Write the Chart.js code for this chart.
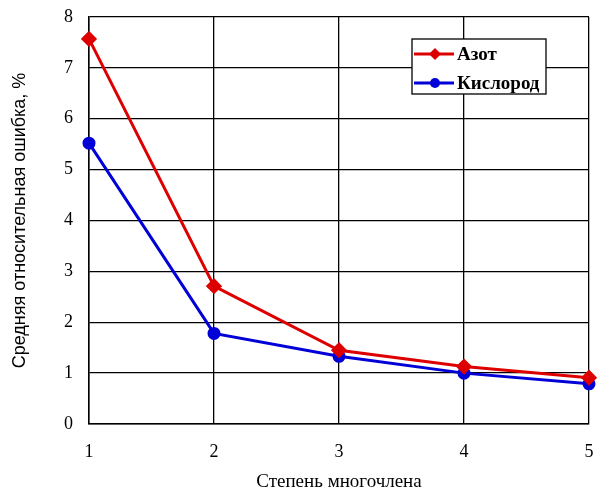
<!DOCTYPE html>
<html>
<head>
<meta charset="utf-8">
<script src="https://cdn.jsdelivr.net/npm/chart.js@4/dist/chart.umd.min.js"></script>
<style>
  html, body { margin: 0; padding: 0; background: #fff; }
  #wrap { width: 598px; height: 493px; }
</style>
</head>
<body>
<div id="wrap"><canvas id="c" width="598" height="493"></canvas></div>
<script>
// Polynomial degree on the x axis
const degrees = [1, 2, 3, 4, 5];
// Mean relative error, %
const nitrogen = [7.57, 2.71, 1.45, 1.13, 0.91];
const oxygen = [5.52, 1.78, 1.33, 1.00, 0.79];
const seriesNames = ['Азот', 'Кислород'];
const xTitle = 'Степень многочлена';
const yTitle = 'Средняя относительная ошибка, %';

const RED = 'rgb(222,0,0)';
const BLUE = 'rgb(0,0,215)';
const SERIF = '"Liberation Serif", "Times New Roman", serif';
const SANS = '"Liberation Sans", Arial, sans-serif';

const toPoints = vals => degrees.map((d, i) => ({ x: d, y: vals[i] }));

// Fixed axis band sizes; label overhang is left to the layout padding
function fixBand(size) {
  return scale => {
    if (scale.isHorizontal()) scale.height = size; else scale.width = size;
    scale.paddingLeft = scale.paddingRight = scale.paddingTop = scale.paddingBottom = 0;
  };
}

// Boxed legend drawn inside the plot area, upper right
const boxLegend = {
  id: 'boxLegend',
  afterDatasetsDraw(chart) {
    const { ctx, chartArea } = chart;
    const w = 134, h = 55;
    const x0 = chartArea.right - 43 - w;
    const y0 = chartArea.top + 22;
    ctx.save();
    ctx.fillStyle = '#fff';
    ctx.fillRect(x0, y0, w, h);
    ctx.strokeStyle = '#000';
    ctx.lineWidth = 1.3;
    ctx.strokeRect(x0, y0, w, h);
    chart.data.datasets.forEach((ds, i) => {
      const cy = y0 + 15 + i * 29;
      ctx.strokeStyle = ds.borderColor;
      ctx.lineWidth = 3;
      ctx.beginPath();
      ctx.moveTo(x0 + 2, cy);
      ctx.lineTo(x0 + 42, cy);
      ctx.stroke();
      ctx.fillStyle = ds.borderColor;
      const mx = x0 + 23;
      ctx.beginPath();
      if (ds.pointStyle === 'rectRot') {
        const r = 6;
        ctx.moveTo(mx, cy - r); ctx.lineTo(mx + r, cy); ctx.lineTo(mx, cy + r); ctx.lineTo(mx - r, cy);
        ctx.closePath();
      } else {
        ctx.arc(mx, cy, 5, 0, Math.PI * 2);
      }
      ctx.fill();
      ctx.fillStyle = '#000';
      ctx.font = 'bold 19px ' + SERIF;
      ctx.textBaseline = 'middle';
      ctx.textAlign = 'left';
      ctx.fillText(ds.label, x0 + 45, cy + 1);
    });
    ctx.restore();
  }
};

new Chart(document.getElementById('c'), {
  type: 'line',
  data: {
    datasets: [
      {
        label: seriesNames[0],
        data: toPoints(nitrogen),
        borderColor: RED,
        backgroundColor: RED,
        borderWidth: 3,
        pointStyle: 'rectRot',
        pointRadius: 6,
        pointHoverRadius: 6,
        clip: false,
        tension: 0
      },
      {
        label: seriesNames[1],
        data: toPoints(oxygen),
        borderColor: BLUE,
        backgroundColor: BLUE,
        borderWidth: 3,
        pointStyle: 'circle',
        pointRadius: 5,
        pointHoverRadius: 5,
        clip: false,
        tension: 0
      }
    ]
  },
  options: {
    responsive: false,
    animation: false,
    events: [],
    layout: { padding: { top: 17, right: 7, left: 0, bottom: 0 } },
    plugins: { legend: { display: false }, tooltip: { enabled: false } },
    scales: {
      x: {
        type: 'linear',
        min: 1, max: 5,
        afterFit: fixBand(69),
        ticks: { stepSize: 1, color: '#000', font: { family: SERIF, size: 18 }, padding: 17 },
        grid: { color: '#000', lineWidth: 1.3, drawTicks: false },
        border: { color: '#000', width: 1.5 },
        title: { display: true, text: xTitle, color: '#000', font: { family: SERIF, size: 19 }, padding: { top: 0, bottom: 0 } }
      },
      y: {
        min: 0, max: 8,
        afterFit: fixBand(89),
        ticks: { stepSize: 1, color: '#000', font: { family: SERIF, size: 18 }, padding: 16 },
        grid: { color: '#000', lineWidth: 1.3, drawTicks: false },
        border: { color: '#000', width: 1.5 },
        title: { display: true, text: yTitle, color: '#000', font: { family: SANS, size: 18 }, padding: { top: 9, bottom: 0 } }
      }
    }
  },
  plugins: [boxLegend]
});
</script>
</body>
</html>
